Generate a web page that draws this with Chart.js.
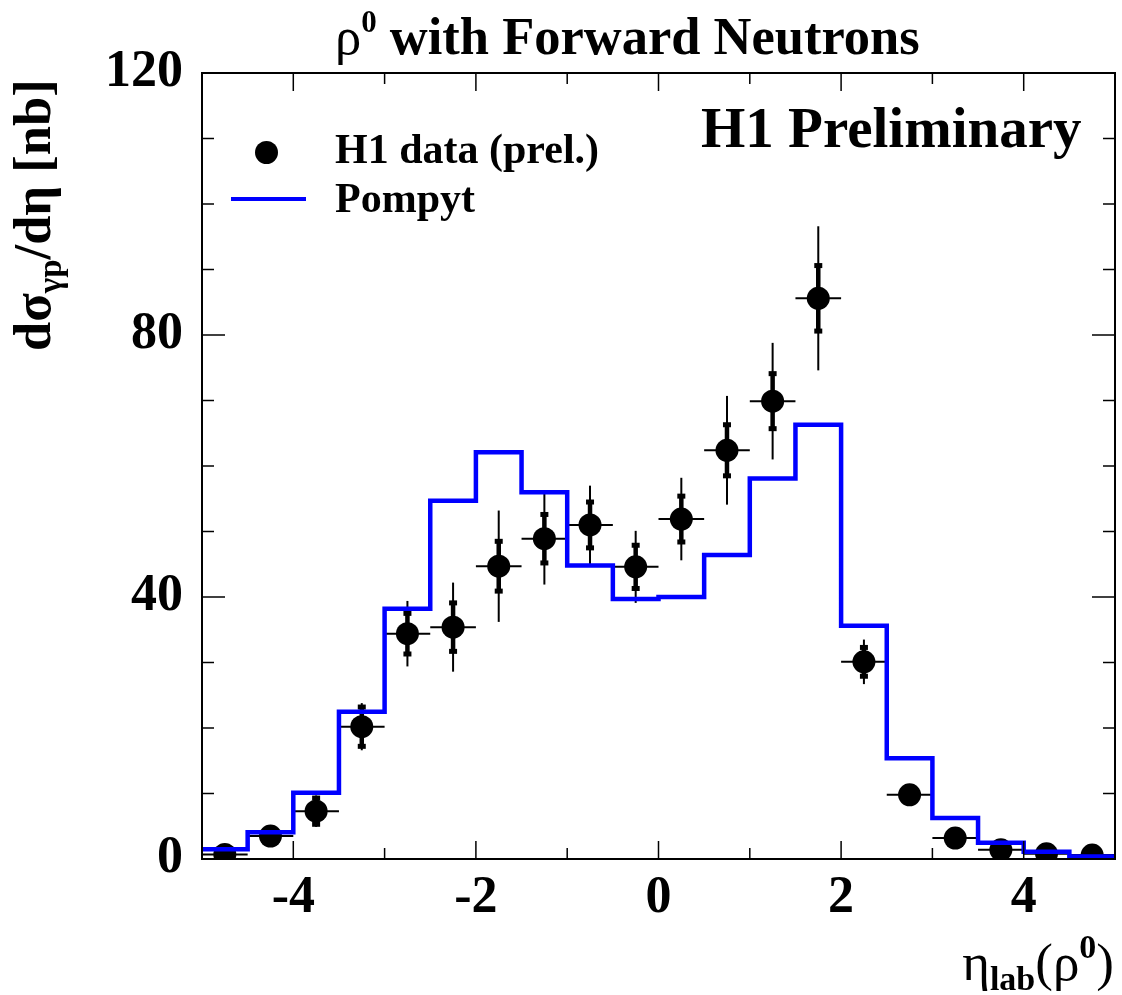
<!DOCTYPE html>
<html>
<head>
<meta charset="utf-8">
<script src="https://cdn.jsdelivr.net/npm/chart.js@4.4.1/dist/chart.umd.min.js"></script>
<style>
  html, body { margin:0; padding:0; background:#fff; }
  #wrap { position:relative; width:1122px; height:995px; overflow:hidden; }
  canvas { position:absolute; left:0; top:0; }
  .t { position:absolute; white-space:nowrap; font-family:"Liberation Serif","Times New Roman",serif; font-weight:bold; color:#000; line-height:1; }
  .reg { font-weight:normal; }
</style>
</head>
<body>
<div id="wrap">
  <canvas id="c" width="1122" height="995"></canvas>
  <div class="t" id="title" style="left:335px; top:10px; font-size:52.5px;"><span class="reg">ρ</span><span style="font-size:31px; position:relative; top:-22px;">0</span> with Forward Neutrons</div>
  <div class="t" id="prelim" style="left:701px; top:99px; font-size:57px;">H1 Preliminary</div>
  <div class="t" style="left:335px; top:128px; font-size:42px;">H1 data (prel.)</div>
  <div class="t" style="left:335px; top:177px; font-size:42px;">Pompyt</div>
  <div style="position:absolute; left:255px; top:141px; width:23px; height:23px; border-radius:50%; background:#000;"></div>
  <div style="position:absolute; left:231px; top:197px; width:75px; height:4px; background:#0000ff;"></div>
  <div class="t" id="ylab" style="left:6px; top:351px; font-size:52.5px; transform-origin:0 0; transform:rotate(-90deg);">dσ<span style="font-size:33px; position:relative; top:11px;">γp</span>/dη [nb]</div>
  <div class="t" id="xlab" style="right:8px; top:936px; font-size:53px;"><span class="reg">η</span><span style="font-size:34px; position:relative; top:10px;">lab</span><span class="reg">(ρ</span><span style="font-size:34px; position:relative; top:-22px;">0</span><span class="reg">)</span></div>
</div>
<script>
// ---- data ----
const etaCenters = [-4.75,-4.25,-3.75,-3.25,-2.75,-2.25,-1.75,-1.25,-0.75,-0.25,0.25,0.75,1.25,1.75,2.25,2.75,3.25,3.75,4.25,4.75];
const h1Values   = [0.7, 3.5, 7.3, 20.2, 34.4, 35.4, 44.7, 48.9, 51.0, 44.6, 51.9, 62.4, 69.9, 85.6, 30.1, 9.8, 3.2, 1.4, 0.8, 0.6];
const statErr    = [0.4, 1.0, 2.0, 3.0, 3.1, 3.7, 3.8, 3.7, 3.5, 3.3, 3.5, 3.9, 4.2, 5.0, 2.2, 1.0, 0.6, 0.4, 0.3, 0.2];
const totErr     = [0.6, 1.3, 2.4, 3.6, 5.0, 6.8, 8.5, 7.0, 6.0, 5.5, 6.3, 8.3, 8.9, 11.0, 3.4, 1.4, 0.9, 0.6, 0.4, 0.3];
const binEdges   = [-5,-4.5,-4,-3.5,-3,-2.5,-2,-1.5,-1,-0.5,0,0.5,1,1.5,2,2.5,3,3.5,4,4.5,5];
const pompyt     = [1.5, 4.1, 10.1, 22.5, 38.2, 54.7, 62.1, 56.0, 44.8, 39.7, 40.0, 46.4, 58.1, 66.3, 35.6, 15.4, 6.25, 2.5, 1.1, 0.4];
const xMajorTicks = [-4,-2,0,2,4];
const xMinorTicks = [-3,-1,1,3];
const yMajorTicks = [0,40,80,120];
const yMinorTicks = [10,20,30,50,60,70,90,100,110];

const h1Points = etaCenters.map((c,i)=>({x:c, y:h1Values[i]}));
const pompytPoints = binEdges.map((e,i)=>({x:e, y:pompyt[Math.min(i, pompyt.length-1)]}));

const errPlugin = {
  id:'errbars',
  beforeDatasetsDraw(chart){
    const {ctx, chartArea:a, scales:{x, y}} = chart;
    ctx.save();
    ctx.beginPath(); ctx.rect(a.left, a.top, a.right-a.left, a.bottom-a.top); ctx.clip();
    ctx.strokeStyle = '#000'; ctx.fillStyle = '#000'; ctx.lineCap = 'butt';
    etaCenters.forEach((c,i)=>{
      const half = (binEdges[i+1]-binEdges[i])/2;
      const v = h1Values[i];
      const px = x.getPixelForValue(c), py = y.getPixelForValue(v);
      ctx.lineWidth = 2;
      ctx.beginPath(); ctx.moveTo(x.getPixelForValue(c-half), py); ctx.lineTo(x.getPixelForValue(c+half), py); ctx.stroke();
      ctx.beginPath(); ctx.moveTo(px, y.getPixelForValue(v-totErr[i])); ctx.lineTo(px, y.getPixelForValue(v+totErr[i])); ctx.stroke();
      const s1 = y.getPixelForValue(v+statErr[i]), s2 = y.getPixelForValue(v-statErr[i]);
      ctx.lineWidth = 4.5;
      ctx.beginPath(); ctx.moveTo(px, s1); ctx.lineTo(px, s2); ctx.stroke();
      ctx.fillRect(px-4, s1-2.5, 8, 5);
      ctx.fillRect(px-4, s2-2.5, 8, 5);
    });
    ctx.restore();
  }
};

const framePlugin = {
  id:'frame',
  afterDraw(chart){
    const {ctx, chartArea:a, scales:{x, y}} = chart;
    ctx.save();
    ctx.strokeStyle = '#000';
    ctx.lineWidth = 1.5;
    const tick = (x1,y1,x2,y2)=>{ ctx.beginPath(); ctx.moveTo(x1,y1); ctx.lineTo(x2,y2); ctx.stroke(); };
    xMajorTicks.forEach(v=>{ const p=x.getPixelForValue(v); tick(p,a.bottom,p,a.bottom-18); tick(p,a.top,p,a.top+18); });
    xMinorTicks.forEach(v=>{ const p=x.getPixelForValue(v); tick(p,a.bottom,p,a.bottom-11); tick(p,a.top,p,a.top+11); });
    yMajorTicks.forEach(v=>{ const p=y.getPixelForValue(v); tick(a.left,p,a.left+23,p); tick(a.right,p,a.right-23,p); });
    yMinorTicks.forEach(v=>{ const p=y.getPixelForValue(v); tick(a.left,p,a.left+12,p); tick(a.right,p,a.right-12,p); });
    ctx.lineWidth = 2;
    ctx.strokeRect(a.left, a.top, a.right-a.left, a.bottom-a.top);
    ctx.restore();
  }
};

const tickFont = {family:'"Liberation Serif", "Times New Roman", serif', weight:'bold', size:52};

new Chart(document.getElementById('c'), {
  type:'scatter',
  data:{
    datasets:[
      { label:'Pompyt', type:'line', data:pompytPoints, borderColor:'#0000ff', borderWidth:4.5, stepped:true, pointRadius:0, fill:false, borderJoinStyle:'miter' },
      { label:'H1 data (prel.)', data:h1Points, backgroundColor:'#000', borderWidth:0, pointRadius:11.5, pointStyle:'circle' }
    ]
  },
  options:{
    responsive:false, animation:false, devicePixelRatio:1,
    layout:{ autoPadding:false, padding:{ top:73, right:7, left:0, bottom:0 } },
    plugins:{ legend:{display:false}, tooltip:{enabled:false}, title:{display:false} },
    scales:{
      x:{ type:'linear', min:-5, max:5,
          grid:{display:false}, border:{display:false},
          ticks:{ stepSize:1, autoSkip:false, maxRotation:0, minRotation:0, padding:0, color:'#000', font:tickFont,
                  callback:(v)=> (xMajorTicks.includes(v) ? String(v) : '') },
          afterFit:(s)=>{ s.height = 136; s.paddingLeft = 0; s.paddingRight = 0; } },
      y:{ min:0, max:120,
          grid:{display:false}, border:{display:false},
          ticks:{ stepSize:40, autoSkip:false, padding:11, color:'#000', font:tickFont,
                  callback:(v)=> String(v) },
          afterFit:(s)=>{ s.width = 202; s.paddingTop = 0; s.paddingBottom = 0; } }
    }
  },
  plugins:[errPlugin, framePlugin]
});
</script>
</body>
</html>
